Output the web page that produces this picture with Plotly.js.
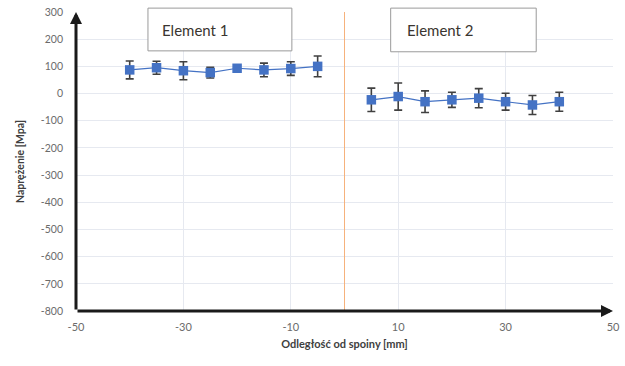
<!DOCTYPE html>
<html><head><meta charset="utf-8">
<script src="https://cdn.plot.ly/plotly-3.0.1.min.js"></script>
<style>body{margin:0;background:#fff}#c{width:625px;height:366px}</style>
</head><body><div id="c"></div>
<script>
const x1 = [-40, -35, -30, -25, -20, -15, -10, -5];
const y1 = [87, 95, 84, 77, 93, 87, 92, 100];
const e1 = [33, 24, 33, 20, 10, 25, 25, 38];
const x2 = [5, 10, 15, 20, 25, 30, 35, 40];
const y2 = [-23, -11, -30, -23, -17, -30, -42, -30];
const e2 = [43, 50, 40, 28, 35, 31, 35, 35];
const labels = ["Element 1", "Element 2"];
const xTicks = [-50, -30, -10, 10, 30, 50];
const yTicks = [300, 200, 100, 0, -100, -200, -300, -400, -500, -600, -700, -800];

const blue = '#4472C4';
const errStyle = {type:'data', visible:true, color:'#404040', thickness:1.6, width:4};
function tr(x, y, e){
  return {x:x, y:y, type:'scatter', mode:'lines+markers',
    line:{color:blue, width:1.2},
    marker:{symbol:'square', size:9.5, color:blue},
    error_y:Object.assign({array:e}, errStyle), showlegend:false};
}
const data = [tr(x1,y1,e1), tr(x2,y2,e2)];

const font = {family:'Lato, "Open Sans", sans-serif', color:'#595959'};
const layout = {
  width:625, height:366,
  margin:{l:76, r:12, t:12, b:55},
  paper_bgcolor:'#fff', plot_bgcolor:'#fff',
  font:Object.assign({size:11}, font),
  xaxis:{range:[-50,50], tickmode:'array', tickvals:xTicks, ticktext:xTicks.map(String), showgrid:true, gridcolor:'#e6e9f0', zeroline:false,
    showline:false, ticks:'', tickfont:{size:11,color:'#6b6b6b'}, ticklabelstandoff:8,
    title:{text:'Odległość od spoiny [mm]', font:{size:11, color:'#404040', family:'Lato, sans-serif', weight:'bold'}, standoff:8}},
  yaxis:{range:[-800,300], tickmode:'array', tickvals:yTicks, ticktext:yTicks.map(String), showgrid:true, gridcolor:'#e6e9f0', zeroline:false,
    showline:false, ticks:'', tickfont:{size:10.5,color:'#6b6b6b'}, ticklabelstandoff:12,
    title:{text:'Naprężenie [Mpa]', font:{size:10.5, color:'#404040', family:'Lato, sans-serif', weight:'bold'}, standoff:14}},
  shapes:[
    {type:'line', xref:'x', yref:'y', x0:0, x1:0, y0:-800, y1:300, line:{color:'#f6b27c', width:1}},
    {type:'rect', xref:'paper', yref:'paper', x0:0.134, x1:0.402, y0:0.87, y1:1.013, line:{color:'#9a9a9a',width:1}, fillcolor:'#fff', layer:'above'},
    {type:'rect', xref:'paper', yref:'paper', x0:0.586, x1:0.857, y0:0.867, y1:1.013, line:{color:'#9a9a9a',width:1}, fillcolor:'#fff', layer:'above'}
  ],
  annotations:[
    {xref:'x', yref:'y', axref:'x', ayref:'y', x:-50, y:300, ax:-50, ay:-800, showarrow:true, arrowhead:2, arrowsize:0.8, arrowwidth:3, arrowcolor:'#1a1a1a', text:''},
    {xref:'x', yref:'y', axref:'x', ayref:'y', x:50, y:-800, ax:-50, ay:-800, showarrow:true, arrowhead:2, arrowsize:0.8, arrowwidth:3, arrowcolor:'#1a1a1a', text:''},
    {xref:'paper', yref:'paper', x:0.157, y:0.94, yanchor:'middle', text:labels[0], showarrow:false, font:{size:15, color:'#3a3530', family:'Lato, sans-serif'}, xanchor:'left'},
    {xref:'paper', yref:'paper', x:0.613, y:0.94, yanchor:'middle', text:labels[1], showarrow:false, font:{size:15, color:'#3a3530', family:'Lato, sans-serif'}, xanchor:'left'}
  ]
};
Plotly.newPlot('c', data, layout, {displayModeBar:false, staticPlot:true});
</script></body></html>
